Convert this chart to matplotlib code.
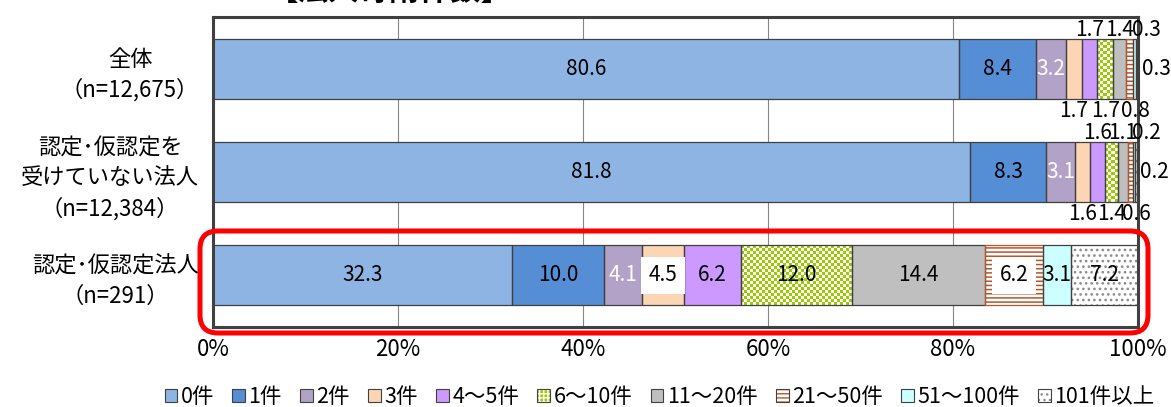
import numpy as np
import matplotlib

matplotlib.use("Agg")
import matplotlib.pyplot as plt
from matplotlib.colors import to_rgb
from matplotlib.legend_handler import HandlerTuple
from matplotlib.patches import FancyBboxPatch, Patch
from matplotlib.transforms import IdentityTransform

plt.rcParams["font.family"] = ["Noto Sans CJK JP", "DejaVu Sans"]

# 寄附件数の分布（%）
categories = ["全体\n（n=12,675）",
              "認定･仮認定を\n受けていない法人\n（n=12,384）",
              "認定･仮認定法人\n（n=291）"]
series = ["0件", "1件", "2件", "3件", "4～5件", "6～10件",
          "11～20件", "21～50件", "51～100件", "101件以上"]
v_0 = [80.6, 81.8, 32.3]
v_1 = [8.4, 8.3, 10.0]
v_2 = [3.2, 3.1, 4.1]
v_3 = [1.7, 1.6, 4.5]
v_4_5 = [1.7, 1.6, 6.2]
v_6_10 = [1.7, 1.4, 12.0]
v_11_20 = [1.4, 1.1, 14.4]
v_21_50 = [0.8, 0.6, 6.2]
v_51_100 = [0.3, 0.2, 3.1]
v_101 = [0.3, 0.2, 7.2]
values = [v_0, v_1, v_2, v_3, v_4_5, v_6_10, v_11_20, v_21_50, v_51_100, v_101]
xticks = [0, 20, 40, 60, 80, 100]

colors = ["#8EB4E3", "#558ED5", "#B3A2C7", "#FCD5B5", "#CC99FF",
          "#99CC00", "#BFBFBF", "#FFFFFF", "#CCFFFF", "#FFFFFF"]
hatches = [None] * 7 + ["----", None, "..."]
hatch_colors = [None] * 7 + ["#B5562A", None, "#8C8C8C"]
text_colors = ["black", "black", "white"] + ["black"] * 7
# small segments: label outside the bar
outside = {3: "below", 4: "above", 5: "below", 6: "above",
           7: "below", 8: "above", 9: "right"}
nudge_x = {7: 6, 8: 12}
boxed = {3, 7}

W, H = 1171, 407
fig = plt.figure(figsize=(W / 100, H / 100), dpi=100)
ax_l, ax_b, ax_w, ax_h = 213 / W, 80 / H, 925 / W, 310 / H
ax = fig.add_axes([ax_l, ax_b, ax_w, ax_h])

bar_h = 0.58
y = np.arange(len(categories))
px_x = ax_w * W / 100
px_y = ax_h * H / len(categories)
edge = "#404040"
FS = 15


def checker(left, width, yc, cell=3.0):
    nx = max(1, int(round(width * px_x / cell)))
    ny = max(1, int(round(bar_h * px_y / cell)))
    grid = (np.add.outer(np.arange(ny), np.arange(nx)) % 2).astype(bool)
    img = np.where(grid[..., None], np.array(to_rgb("white")),
                   np.array(to_rgb(colors[5])))
    ax.imshow(img, extent=(left, left + width, yc + bar_h / 2, yc - bar_h / 2),
              aspect="auto", interpolation="nearest", zorder=2)


handles = []
left = np.zeros(len(categories))
for i, (name, vals) in enumerate(zip(series, values)):
    vals = np.array(vals)
    with plt.rc_context({"hatch.color": hatch_colors[i] or "black",
                         "hatch.linewidth": 1.1}):
        ax.barh(y, vals, left=left, height=bar_h, color=colors[i],
                hatch=hatches[i], linewidth=0, zorder=2)
    ax.barh(y, vals, left=left, height=bar_h, fill=False,
            edgecolor=hatch_colors[i] if i == 7 else edge,
            linewidth=0.9, zorder=3)
    if i == 5:
        for l, w, yc in zip(left, vals, y):
            checker(l, w, yc)
    with plt.rc_context({"hatch.color": "white" if i == 5 else (hatch_colors[i] or "black")}):
        proxy = Patch(facecolor=colors[i], hatch="++++" if i == 5 else hatches[i],
                      linewidth=0)
    handles.append((proxy, Patch(fill=False, edgecolor=edge, linewidth=0.8)))

    for j, v in enumerate(vals):
        xc = left[j] + v / 2
        place = outside.get(i) if v < 2.5 else None
        kw = dict(fontsize=FS, color=text_colors[i], zorder=4,
                  textcoords="offset pixels", annotation_clip=False)
        if place is None:
            bbox = dict(boxstyle="square,pad=0.35", fc="white", ec="none") if i in boxed else None
            ax.annotate(f"{v:.1f}", (xc, y[j]), xytext=(0, 0), ha="center",
                        va="center", bbox=bbox, **kw)
        elif place == "right":
            ax.annotate(f"{v:.1f}", (left[j] + v, y[j]), xytext=(3, 0),
                        ha="left", va="center", **kw)
        else:
            dy = 39 if place == "above" else -42
            kw["color"] = "black"
            ax.annotate(f"{v:.1f}", (xc, y[j]), xytext=(nudge_x.get(i, 0), dy),
                        ha="center", va="center", **kw)
    left = left + vals

ax.set_xlim(0, 100)
ax.set_ylim(len(categories) - 0.5, -0.5)
ax.set_xticks(xticks)
ax.set_xticklabels([f"{t}%" for t in xticks])
ax.set_yticks(y)
ax.set_yticklabels(categories)
for lab in ax.get_yticklabels():
    lab.set_multialignment("center")
    lab.set_linespacing(1.4)
ax.tick_params(axis="y", length=0, pad=10, labelsize=16)
ax.tick_params(axis="x", length=0, pad=8, labelsize=16)
ax.grid(axis="x", color="#868686", linewidth=0.8)
ax.set_axisbelow(True)
for sp in ax.spines.values():
    sp.set_color(edge)
    sp.set_linewidth(2.2)

# highlight frame around the certified row
frame = FancyBboxPatch((200, 74), 948, 102, boxstyle="round,pad=0,rounding_size=18",
                       transform=IdentityTransform(), fill=False,
                       edgecolor="#FF0000", linewidth=3.6, zorder=10)
fig.add_artist(frame)

fig.text(0.333, 1.0, "【法人寄附件数】", fontsize=22, fontweight="bold",
         va="baseline", ha="center")

fig.legend(handles, series, handler_map={tuple: HandlerTuple(ndivide=1)},
           loc="lower center", bbox_to_anchor=(0.563, -0.05), ncol=10,
           frameon=False, fontsize=15.5, handlelength=0.6, handleheight=0.6,
           handletextpad=0.15, columnspacing=0.85)

fig.savefig("out.png", dpi=100)
